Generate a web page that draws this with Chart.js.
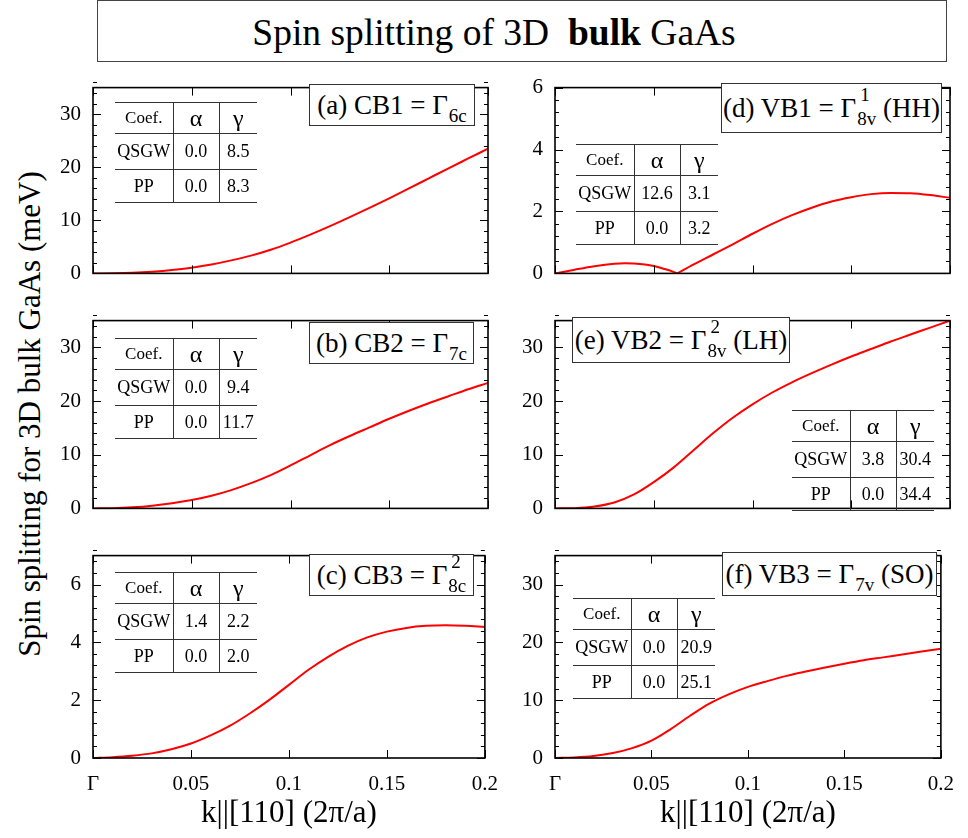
<!DOCTYPE html>
<html>
<head>
<meta charset="utf-8">
<script src="https://cdn.jsdelivr.net/npm/chart.js@4.4.1/dist/chart.umd.min.js"></script>
<style>
  body { margin: 0; width: 968px; height: 838px; position: relative; background: #fff; overflow: hidden;
         font-family: "Liberation Serif", "Times New Roman", serif; color: #000; }
  canvas { position: absolute; }
  #title { position: absolute; left: 97px; top: 0; width: 792px; padding-right: 56px; height: 60px;
           border: 1.5px solid #444; text-align: center; line-height: 64px; font-size: 37.5px; }
  #ylabel { position: absolute; left: -270px; top: 396px; width: 600px; text-align: center; font-size: 31px;
            transform: rotate(-90deg); }
  .tag { position: absolute; border: 1.5px solid #333; box-sizing: border-box; font-size: 27px;
         display: flex; align-items: center; justify-content: center; white-space: nowrap; background: #fff; }
  .tag .sub { font-size: 19px; position: relative; top: 8px; margin-left: 1px; }
  .tag .stack { display: inline-block; position: relative; font-size: 19px; margin-left: 1px; }
  .tag .stack .up { position: absolute; left: 3px; top: -16px; }
  .tag .stack .dn { position: relative; top: 8px; }
  table.coef { position: absolute; border-collapse: collapse; border-top: 1.5px solid #333;
               border-bottom: 1.5px solid #333; font-size: 18px; }
  table.coef td { padding: 0; text-align: center; border-top: 1.2px solid #333; }
  table.coef td + td { border-left: 1.2px solid #333; }
  table.coef td.small { font-size: 17px; }
  table.coef td.greek { font-size: 24px; }
</style>
</head>
<body>
<div id="title">Spin splitting of 3D&nbsp; <b>bulk</b> GaAs</div>
<div id="ylabel">Spin splitting for 3D bulk GaAs (meV)</div>
<script>
// k along [110] in units of 2pi/a
const kGrid = [0, 0.01, 0.02, 0.03, 0.04, 0.05, 0.06, 0.07, 0.08, 0.09, 0.1,
               0.11, 0.12, 0.13, 0.14, 0.15, 0.16, 0.17, 0.18, 0.19, 0.2];

// spin splitting (meV)
const splitCB1 = [0, 0.02, 0.1, 0.3, 0.62, 1.08, 1.68, 2.45, 3.35, 4.45, 5.8,
                  7.3, 8.9, 10.6, 12.35, 14.15, 16.0, 17.9, 19.8, 21.65, 23.5];
const splitCB2 = [0, 0.04, 0.2, 0.5, 0.95, 1.55, 2.35, 3.4, 4.7, 6.2, 8.0,
                  9.9, 11.8, 13.5, 15.1, 16.7, 18.2, 19.6, 20.9, 22.2, 23.4];
const splitCB3 = [0, 0.03, 0.08, 0.16, 0.3, 0.5, 0.78, 1.12, 1.54, 2.01, 2.53,
                  3.05, 3.5, 3.88, 4.17, 4.37, 4.5, 4.57, 4.59, 4.57, 4.53];
// VB1 goes to zero at a cusp, so it is kept as two branches
const kVB1Left = [0, 0.01, 0.02, 0.03, 0.035, 0.04, 0.05, 0.055, 0.06, 0.062];
const splitVB1Left = [0, 0.12, 0.23, 0.31, 0.33, 0.32, 0.24, 0.15, 0.05, 0];
const kVB1Right = [0.062, 0.07, 0.08, 0.09, 0.1, 0.11, 0.12, 0.13, 0.14, 0.15, 0.16, 0.17, 0.18, 0.19, 0.2];
const splitVB1Right = [0, 0.28, 0.61, 0.94, 1.28, 1.6, 1.88, 2.12, 2.32, 2.46, 2.56, 2.6, 2.59, 2.53, 2.44];
const splitVB2 = [0, 0.05, 0.35, 1.1, 2.6, 4.9, 7.6, 10.8, 14.0, 16.9, 19.4,
                  21.6, 23.5, 25.2, 26.8, 28.3, 29.7, 31.1, 32.4, 33.7, 35.0];
const splitVB3 = [0, 0.1, 0.35, 0.85, 1.7, 3.0, 5.0, 7.3, 9.4, 11.0, 12.3,
                  13.3, 14.2, 14.95, 15.65, 16.3, 16.9, 17.4, 17.9, 18.4, 18.9];

// panel labels
const panelTags = ['(a) CB1', '(b) CB2', '(c) CB3', '(d) VB1', '(e) VB2', '(f) VB3'];
const gammaSub = ['6c', '7c', '8c', '8v', '8v', '7v'];
const gammaSup = ['', '', '2', '1', '2', ''];
const tagSuffix = ['', '', '', ' (HH)', ' (LH)', ' (SO)'];

// fitted coefficients shown in the inset tables
const alphaQSGW = [0.0, 0.0, 1.4, 12.6, 3.8, 0.0];
const alphaPP = [0.0, 0.0, 0.0, 0.0, 0.0, 0.0];
const gammaQSGW = [8.5, 9.4, 2.2, 3.1, 30.4, 20.9];
const gammaPP = [8.3, 11.7, 2.0, 3.2, 34.4, 25.1];

// y axis ranges per panel
const yMaxes = [35, 35, 7, 6, 35, 35];
const yMajor = [10, 10, 2, 2, 10, 10];

Chart.defaults.font.family = '"Liberation Serif", "Times New Roman", serif';
Chart.defaults.color = '#000';

// box around the plot area plus inward ticks on all four sides
const framePlugin = {
  id: 'frame',
  afterDraw(chart, args, opts) {
    const { ctx, chartArea: a, scales: { x, y } } = chart;
    ctx.save();
    ctx.strokeStyle = '#000';
    ctx.lineWidth = 1;
    ctx.beginPath();
    x.ticks.forEach(t => {
      const px = Math.round(x.getPixelForValue(t.value)) + 0.5;
      ctx.moveTo(px, a.bottom); ctx.lineTo(px, a.bottom - 8);
      ctx.moveTo(px, a.top); ctx.lineTo(px, a.top + 8);
    });
    const n = Math.round((y.max - y.min) / opts.minor);
    const perMajor = Math.round(opts.major / opts.minor);
    for (let i = 0; i <= n; i++) {
      const py = Math.round(y.getPixelForValue(y.min + i * opts.minor)) + 0.5;
      const len = i % perMajor === 0 ? 8 : 4;
      ctx.moveTo(a.left, py); ctx.lineTo(a.left + len, py);
      ctx.moveTo(a.right, py); ctx.lineTo(a.right - len, py);
    }
    ctx.stroke();
    ctx.lineWidth = 1.6;
    ctx.strokeRect(a.left, a.top, a.right - a.left, a.bottom - a.top);
    ctx.restore();
  }
};
Chart.register(framePlugin);

function toPoints(xs, ys) {
  return xs.map((k, i) => ({ x: k, y: ys[i] }));
}

function redLine(points) {
  return { data: points, borderColor: '#ff0000', borderWidth: 2, pointRadius: 0,
           cubicInterpolationMode: 'monotone', fill: false };
}

// canvas geometry: columns and rows
const cols = [
  { left: 0, width: 512, yWidth: 93, padRight: 24 },
  { left: 500, width: 468, yWidth: 55, padRight: 18 }
];
const rows = [
  { top: 63, height: 235, xHeight: 8, bottom: false },
  { top: 296, height: 237, xHeight: 8, bottom: false },
  { top: 531, height: 307, xHeight: 80, bottom: true }
];

function addPanel(idx, datasets) {
  const col = cols[Math.floor(idx / 3)];
  const row = rows[idx % 3];
  const canvas = document.createElement('canvas');
  canvas.width = col.width;
  canvas.height = row.height;
  canvas.style.left = col.left + 'px';
  canvas.style.top = row.top + 'px';
  document.body.appendChild(canvas);
  const major = yMajor[idx];
  return new Chart(canvas, {
    type: 'line',
    data: { datasets },
    options: {
      responsive: false,
      animation: false,
      events: [],
      layout: { padding: { top: 12, right: col.padRight, bottom: 0, left: 0 } },
      plugins: {
        legend: { display: false },
        tooltip: { enabled: false },
        frame: { major, minor: major / 5 }
      },
      scales: {
        x: {
          type: 'linear', min: 0, max: 0.2,
          grid: { display: false, drawTicks: false },
          border: { display: false },
          ticks: {
            display: row.bottom, stepSize: 0.05, padding: 14, maxRotation: 0,
            font: { size: 21 },
            callback: v => (v === 0 ? 'Γ' : String(+v.toFixed(2)))
          },
          title: { display: row.bottom, text: 'k||[110] (2π/a)', font: { size: 31 },
                   padding: { top: 0, bottom: 6 } },
          afterFit: s => { s.height = row.xHeight; }
        },
        y: {
          type: 'linear', min: 0, max: yMaxes[idx],
          grid: { display: false, drawTicks: false },
          border: { display: false },
          ticks: { stepSize: major, padding: 12, font: { size: 21 } },
          afterBuildTicks: s => {
            s.ticks = s.ticks.filter(t => Math.abs(t.value / major - Math.round(t.value / major)) < 1e-6);
          },
          afterFit: s => { s.width = col.yWidth; }
        }
      }
    }
  });
}

addPanel(0, [redLine(toPoints(kGrid, splitCB1))]);
addPanel(1, [redLine(toPoints(kGrid, splitCB2))]);
addPanel(2, [redLine(toPoints(kGrid, splitCB3))]);
addPanel(3, [redLine(toPoints(kVB1Left, splitVB1Left)), redLine(toPoints(kVB1Right, splitVB1Right))]);
addPanel(4, [redLine(toPoints(kGrid, splitVB2))]);
addPanel(5, [redLine(toPoints(kGrid, splitVB3))]);

// label boxes and inset tables
const tagBoxes = [
  [309, 84, 166, 42], [309, 322, 165, 42], [309, 554, 165, 42],
  [721, 83, 221, 50], [572, 317, 218, 46], [722, 552, 215, 44]
];
const tableBoxes = [
  [115, 102], [115, 338], [115, 572], [576, 144], [792, 410], [573, 598]
];

panelTags.forEach((tag, i) => {
  const d = document.createElement('div');
  d.className = 'tag';
  const [l, t, w, h] = tagBoxes[i];
  Object.assign(d.style, { left: l + 'px', top: t + 'px', width: w + 'px', height: h + 'px' });
  const g = gammaSup[i]
    ? `Γ<span class="stack"><span class="up">${gammaSup[i]}</span><span class="dn">${gammaSub[i]}</span></span>`
    : `Γ<span class="sub">${gammaSub[i]}</span>`;
  d.innerHTML = `<span>${tag} = ${g}${tagSuffix[i]}</span>`;
  document.body.appendChild(d);

  const tb = document.createElement('table');
  tb.className = 'coef';
  tb.style.left = tableBoxes[i][0] + 'px';
  tb.style.top = tableBoxes[i][1] + 'px';
  tb.innerHTML =
    '<colgroup><col style="width:58px"><col style="width:46px"><col style="width:38px"></colgroup>' +
    '<tr style="height:31px"><td class="small">Coef.</td><td class="greek">α</td><td class="greek">γ</td></tr>' +
    `<tr style="height:36px"><td>QSGW</td><td>${alphaQSGW[i].toFixed(1)}</td><td>${gammaQSGW[i].toFixed(1)}</td></tr>` +
    `<tr style="height:33px"><td>PP</td><td>${alphaPP[i].toFixed(1)}</td><td>${gammaPP[i].toFixed(1)}</td></tr>`;
  document.body.appendChild(tb);
});
</script>
</body>
</html>
